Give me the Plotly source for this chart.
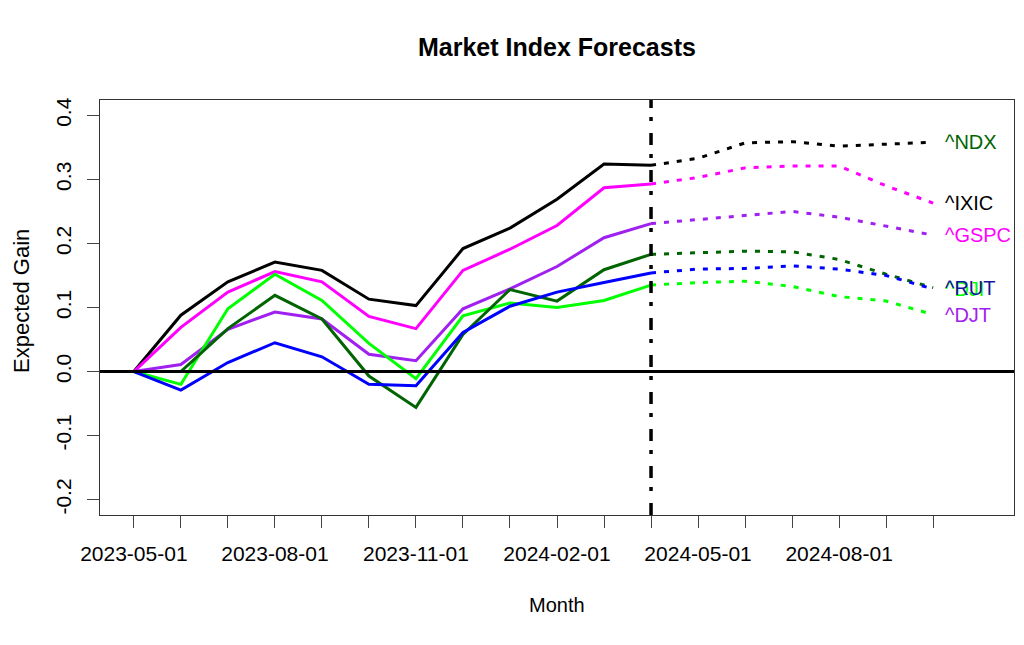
import plotly.graph_objects as go

months = ["2023-05-01", "2023-06-01", "2023-07-01", "2023-08-01", "2023-09-01", "2023-10-01",
          "2023-11-01", "2023-12-01", "2024-01-01", "2024-02-01", "2024-03-01", "2024-04-01",
          "2024-05-01", "2024-06-01", "2024-07-01", "2024-08-01", "2024-09-01", "2024-10-01"]
hist_months = months[:12]
fcst_months = months[11:]

# historical expected gains
ndx_hist = [0, 0.088, 0.140, 0.171, 0.158, 0.113, 0.103, 0.192, 0.224, 0.269, 0.324, 0.322]
ixic_hist = [0, 0.069, 0.124, 0.156, 0.140, 0.086, 0.067, 0.158, 0.191, 0.228, 0.287, 0.293]
gspc_hist = [0, 0.011, 0.066, 0.093, 0.082, 0.027, 0.017, 0.098, 0.129, 0.164, 0.209, 0.231]
djt_hist = [0, -0.020, 0.098, 0.152, 0.111, 0.044, -0.011, 0.087, 0.107, 0.100, 0.111, 0.135]
rut_hist = [0, 0.000, 0.067, 0.119, 0.082, -0.007, -0.056, 0.058, 0.128, 0.110, 0.159, 0.183]
dji_hist = [0, -0.029, 0.014, 0.045, 0.023, -0.020, -0.022, 0.061, 0.102, 0.124, 0.139, 0.154]

# forecasts
ndx_fcst = [0.322, 0.333, 0.357, 0.359, 0.352, 0.355, 0.358]
ixic_fcst = [0.293, 0.303, 0.318, 0.321, 0.321, 0.290, 0.263]
gspc_fcst = [0.231, 0.237, 0.244, 0.250, 0.241, 0.227, 0.213]
djt_fcst = [0.135, 0.139, 0.141, 0.133, 0.117, 0.110, 0.089]
rut_fcst = [0.183, 0.186, 0.188, 0.187, 0.175, 0.152, 0.131]
dji_fcst = [0.154, 0.160, 0.161, 0.165, 0.160, 0.150, 0.129]

series_colors = ["#000000", "#FF00FF", "#A020F0", "#00FF00", "#006400", "#0000FF"]
hist_list = [ndx_hist, ixic_hist, gspc_hist, djt_hist, rut_hist, dji_hist]
fcst_list = [ndx_fcst, ixic_fcst, gspc_fcst, djt_fcst, rut_fcst, dji_fcst]

label_text = ["^NDX", "^IXIC", "^GSPC", "^DJI", "^RUT", "^DJT"]
label_colors = ["#006400", "#000000", "#FF00FF", "#00FF00", "#14149A", "#A020F0"]
label_y = [ndx_fcst[-1], ixic_fcst[-1], gspc_fcst[-1], dji_fcst[-1], rut_fcst[-1], djt_fcst[-1]]

y_ticks = [-0.2, -0.1, 0.0, 0.1, 0.2, 0.3, 0.4]
y_ticktext = ["-0.2", "-0.1", "0.0", "0.1", "0.2", "0.3", "0.4"]
x_ticktext = [m if i % 3 == 0 else "" for i, m in enumerate(months)]

FONT = "Liberation Sans, Arial, sans-serif"

fig = go.Figure()
for h, f, c in zip(hist_list, fcst_list, series_colors):
    fig.add_trace(go.Scatter(x=hist_months, y=h, mode="lines",
                             line=dict(color=c, width=3), showlegend=False, hoverinfo="skip"))
    fig.add_trace(go.Scatter(x=fcst_months, y=f, mode="lines",
                             line=dict(color=c, width=3, dash="5px,8px"), showlegend=False,
                             hoverinfo="skip"))

# zero line and forecast boundary
fig.add_shape(type="line", xref="paper", yref="y", x0=0, x1=1, y0=0, y1=0,
              line=dict(color="black", width=3))
fig.add_shape(type="line", xref="x", yref="paper", x0=11, x1=11, y0=0, y1=1,
              line=dict(color="black", width=3.5, dash="12px,12px,4px,9px"))

for t, c, y in zip(label_text, label_colors, label_y):
    fig.add_annotation(x=months[-1], y=y, xref="x", yref="y", text=t, showarrow=False,
                       xanchor="left", yanchor="middle", xshift=10,
                       font=dict(family=FONT, size=20, color=c))

fig.add_annotation(x=0.5, y=1 + 53 / 415, xref="paper", yref="paper", text="<b>Market Index Forecasts</b>",
                   showarrow=False, xanchor="center", yanchor="middle",
                   font=dict(family=FONT, size=25, color="black"))
fig.add_annotation(x=0.5, y=-90 / 415, xref="paper", yref="paper", text="Month",
                   showarrow=False, xanchor="center", yanchor="middle",
                   font=dict(family=FONT, size=20, color="black"))
fig.add_annotation(x=-79 / 914, y=1 - 201 / 415, xref="paper", yref="paper", text="Expected Gain",
                   showarrow=False, xanchor="center", yanchor="middle", textangle=-90,
                   font=dict(family=FONT, size=22, color="black"))

fig.update_layout(
    width=1016, height=637,
    margin=dict(l=92, r=10, t=92, b=130, pad=0),
    paper_bgcolor="white", plot_bgcolor="white",
    font=dict(family=FONT, size=20, color="black"),
    xaxis=dict(type="category", categoryorder="array", categoryarray=months,
               range=[-0.72, 18.72], tickmode="array", tickvals=months, ticktext=x_ticktext,
               ticks="outside", ticklen=12, tickcolor="#444", tickwidth=1,
               showgrid=False, zeroline=False, showline=True, linecolor="#333", linewidth=1,
               mirror=True, ticklabelstandoff=8, tickfont=dict(family=FONT, size=21)),
    yaxis=dict(range=[-0.224, 0.424], tickmode="array", tickvals=y_ticks, ticktext=y_ticktext,
               tickangle=-90, ticks="outside", ticklen=12, tickcolor="#444", tickwidth=1,
               showgrid=False, zeroline=False, showline=True, linecolor="#333", linewidth=1,
               mirror=True, ticklabelstandoff=8, tickfont=dict(family=FONT, size=21)),
)

fig.write_html("out.html", config={"displayModeBar": False})
